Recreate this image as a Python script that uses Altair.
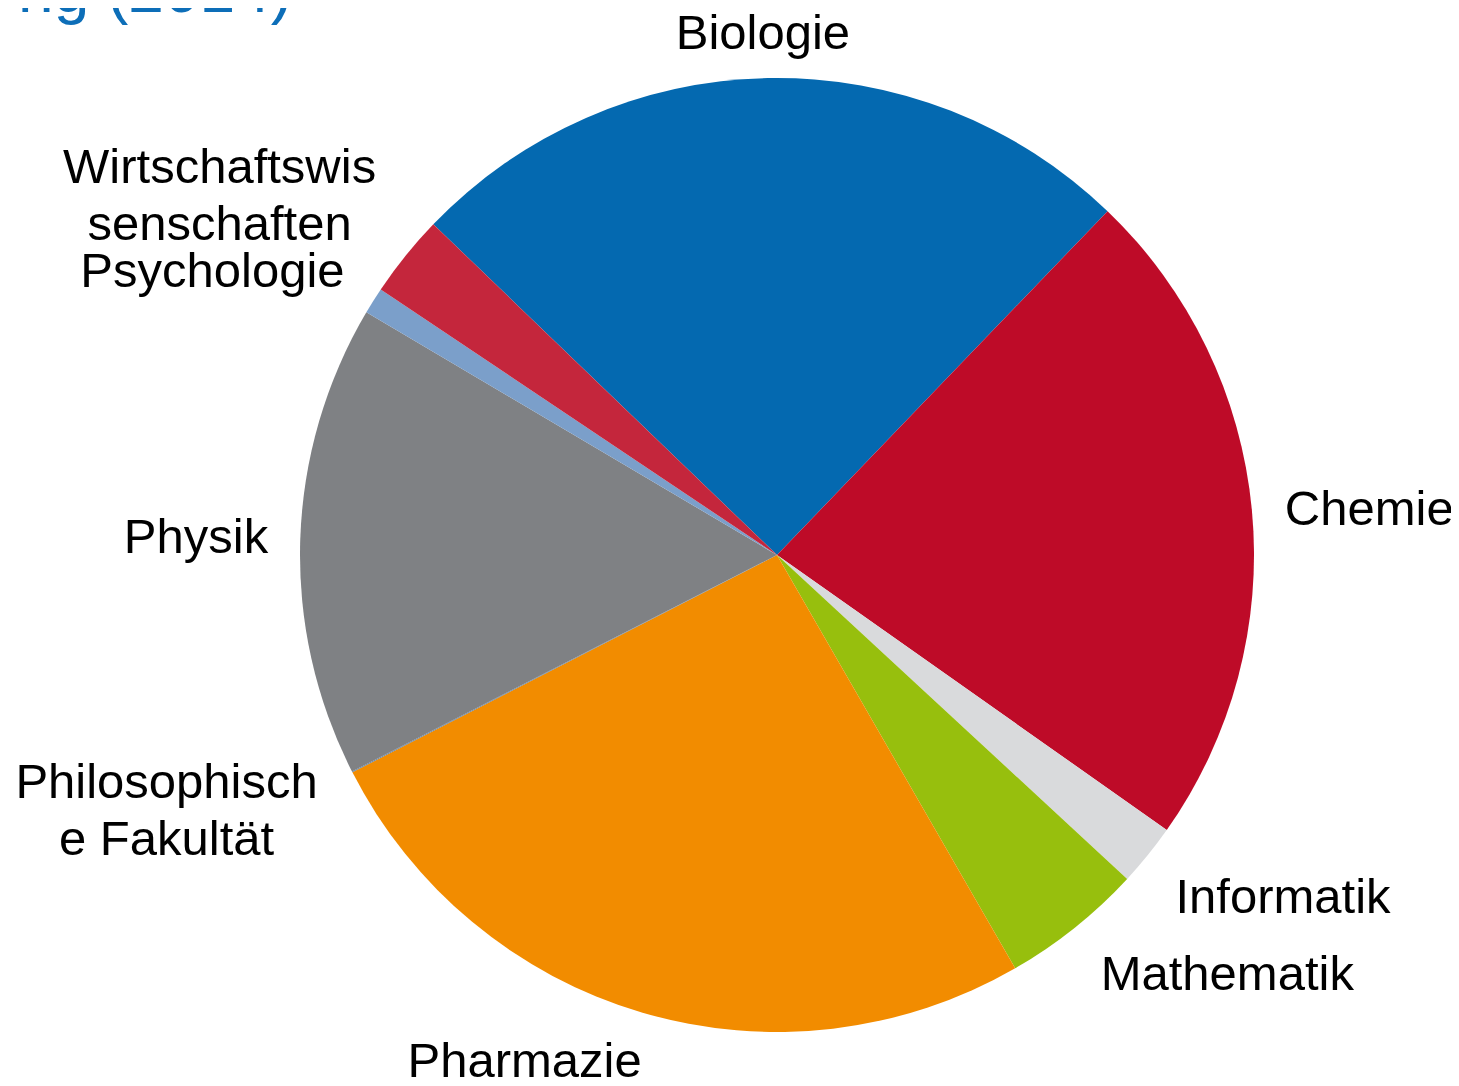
import math
import altair as alt
import pandas as pd

# ---- data -------------------------------------------------------------
categories = ["Biologie", "Chemie", "Informatik", "Mathematik", "Pharmazie",
              "Philosophische Fakultät", "Physik", "Psychologie",
              "Wirtschaftswissenschaften"]
shares = [25.0, 22.6, 2.1, 4.8, 25.8, 0.03, 16.0, 0.9, 2.8]

label_texts = ["Biologie", "Chemie", "Informatik", "Mathematik", "Pharmazie",
               "Philosophisch\ne Fakultät", "Physik", "Psychologie",
               "Wirtschaftswis\nsenschaften"]

title_text = "ng (2014)"

# ---- styling / layout ---------------------------------------------------
colors = ["#0469B0", "#BE0B28", "#D9DADC", "#97BF0D", "#F28C00",
          "#5B7FA5", "#7F8184", "#7B9FCA", "#C4263C"]
label_angle_deg = [-1.6, 87.1, 125.3, 134.0, 205.8, 248.3, 270.2, 295.4, 303.7]
label_radius = [506, 593, 620, 626, 580, 657, 581, 625, 670]

W, H = 1443, 1070
CX, CY, R = 769, 547, 477
start = math.radians(-46.1)
FONT = "Liberation Sans"

pie_df = pd.DataFrame({"cat": categories, "value": shares,
                       "idx": list(range(len(categories)))})
lab_df = pd.DataFrame({"label": label_texts,
                       "t": [math.radians(a) for a in label_angle_deg],
                       "r": label_radius})
title_df = pd.DataFrame({"label": [title_text]})

pie = alt.Chart(pie_df).mark_arc(radius=R, strokeWidth=0).encode(
    theta=alt.Theta("value:Q", stack=True,
                    scale=alt.Scale(range=[start, start + 2 * math.pi])),
    color=alt.Color("cat:N", scale=alt.Scale(domain=categories, range=colors),
                    legend=None),
    order=alt.Order("idx:Q", sort="ascending"),
    x=alt.value(CX),
    y=alt.value(CY),
)

labels = alt.Chart(lab_df).mark_text(
    font=FONT, fontSize=49, color="#000000", align="center",
    baseline="alphabetic", lineBreak="\n", lineHeight=57,
).encode(
    theta=alt.Theta("t:Q", scale=None, stack=False),
    radius=alt.Radius("r:Q", scale=None),
    text="label:N",
    x=alt.value(CX),
    y=alt.value(CY),
)

title = alt.Chart(title_df).mark_text(
    font=FONT, fontSize=64, color="#0D6EB8", align="right",
    baseline="alphabetic",
).encode(
    text="label:N",
    x=alt.value(284),
    y=alt.value(4),
)

chart = alt.layer(pie, labels, title).resolve_scale(
    theta="independent", radius="independent"
).properties(
    width=W, height=H, padding=0, autosize=alt.AutoSizeParams(type="none")
).configure_view(stroke=None)

chart.save("out.html", embed_options={"renderer": "svg", "actions": False})
